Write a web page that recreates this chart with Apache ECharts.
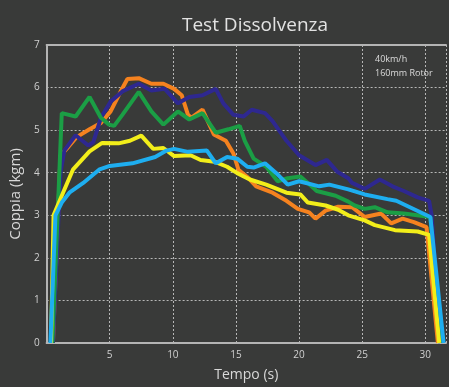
<!DOCTYPE html>
<html>
<head>
<meta charset="utf-8">
<script src="https://cdn.jsdelivr.net/npm/echarts@6/dist/echarts.min.js"></script>
<style>
  html, body { margin: 0; padding: 0; background: #393a39; }
  #main { width: 449px; height: 387px; }
</style>
</head>
<body>
<div id="main"></div>
<script>
// dati: [tempo (s), coppia (kgm)]
var blueData = [[0.3,0],[0.7,3.0],[1.2,3.3],[1.8,3.53],[2.9,3.76],[4.2,4.08],[5.0,4.16],[6.8,4.22],[8.6,4.37],[9.5,4.52],[10.1,4.56],[11.2,4.49],[12.7,4.52],[13.4,4.22],[14.3,4.37],[15.1,4.33],[15.9,4.14],[16.4,4.12],[17.3,4.22],[18.2,3.99],[19.1,3.72],[20.0,3.80],[21.6,3.68],[22.4,3.72],[23.9,3.61],[25.2,3.49],[27.0,3.38],[27.7,3.34],[30.4,2.96],[31.45,0]];
var yellowData = [[0.35,0],[0.55,3.0],[1.3,3.53],[2.1,4.08],[3.4,4.5],[4.4,4.7],[5.7,4.69],[6.6,4.75],[7.5,4.87],[8.45,4.56],[9.25,4.58],[10.1,4.39],[11.4,4.41],[12.2,4.30],[13.3,4.26],[14.3,4.14],[15.1,3.99],[16.1,3.84],[17.4,3.72],[19.0,3.53],[20.1,3.49],[20.7,3.30],[22.1,3.23],[23.1,3.13],[23.9,3.0],[25.2,2.88],[26.0,2.77],[27.6,2.65],[29.4,2.62],[30.3,2.54],[31.1,0]];
var orangeData = [[0.5,0],[1.1,4.4],[1.7,4.6],[2.35,4.83],[3.4,5.02],[4.3,5.17],[5.07,5.44],[5.85,5.9],[6.4,6.2],[7.3,6.22],[8.3,6.09],[9.25,6.09],[10.1,5.97],[10.7,5.82],[11.2,5.36],[11.45,5.29],[12.35,5.48],[13.25,4.9],[14.2,4.75],[14.8,4.45],[15.2,4.07],[15.9,3.9],[16.6,3.68],[17.9,3.53],[19.0,3.34],[19.9,3.15],[20.8,3.07],[21.3,2.92],[22.1,3.11],[23.1,3.2],[24.2,3.19],[25.2,2.96],[26.5,3.04],[27.3,2.81],[28.2,2.92],[29.1,2.84],[30.1,2.72],[31.0,0]];
var greenData = [[0.45,0],[0.9,3.2],[1.2,5.4],[2.3,5.32],[3.4,5.78],[4.3,5.29],[4.95,5.13],[5.35,5.1],[6.0,5.36],[7.3,5.9],[8.3,5.44],[9.25,5.13],[10.4,5.44],[11.3,5.25],[12.35,5.4],[13.4,4.94],[14.4,5.02],[15.3,5.1],[15.7,4.75],[16.4,4.33],[17.4,4.14],[18.3,3.8],[19.1,3.87],[20.1,3.91],[20.7,3.76],[21.4,3.57],[22.9,3.46],[23.9,3.32],[24.4,3.23],[25.2,3.15],[26.0,3.19],[27.0,3.07],[28.3,3.04],[30.4,2.96],[31.2,0]];
var purpleData = [[0.5,0],[1.1,4.0],[1.4,4.52],[2.3,4.88],[3.3,4.64],[3.7,4.72],[4.3,5.29],[5.07,5.67],[6.0,5.91],[7.3,6.09],[8.3,5.93],[9.36,5.97],[10.4,5.63],[11.3,5.78],[12.35,5.82],[13.4,5.97],[14.0,5.63],[14.8,5.36],[15.6,5.32],[16.25,5.48],[17.3,5.4],[17.9,5.21],[19.0,4.75],[20.0,4.41],[21.3,4.18],[22.2,4.30],[23.0,4.03],[23.9,3.87],[24.2,3.76],[25.2,3.62],[26.4,3.84],[27.4,3.68],[28.3,3.57],[29.4,3.42],[30.3,3.34],[30.5,3.0],[31.2,0]];

var titleText = 'Test Dissolvenza';
var noteLines = ['40km/h', '160mm Rotor'];

var font = '"Open Sans", sans-serif';
var gridLine = { show: true, lineStyle: { color: 'rgba(225,225,225,0.75)', width: 1, type: [2, 2] } };

function line(data, color) {
  return {
    type: 'line',
    data: data,
    symbol: 'none',
    lineStyle: { color: color, width: 4 },
    z: 3
  };
}

var myChart = echarts.init(document.getElementById('main'));
var option = {
  backgroundColor: '#393a39',
  animation: false,
  textStyle: { fontFamily: font },
  title: {
    text: titleText,
    left: 250,
    textAlign: 'center',
    top: 11,
    textStyle: { color: '#e2e2e2', fontSize: 19, fontWeight: 'normal', fontFamily: font }
  },
  grid: { left: 43, right: 0, top: 45, bottom: 36 },
  xAxis: [{
    type: 'value',
    min: 0,
    max: 31.64,
    interval: 5,
    name: 'Tempo (s)',
    nameLocation: 'middle',
    nameGap: 25,
    nameTextStyle: { color: '#d8d8d8', fontSize: 14 },
    axisLine: { show: true, lineStyle: { color: '#b4b4b4', width: 2 } },
    axisTick: { show: false },
    axisLabel: {
      color: '#d0d0d0', fontSize: 10, margin: 7,
      formatter: function (v) { return (v > 0 && v % 5 === 0) ? v : ''; }
    },
    splitLine: gridLine
  }, {
    // bordo superiore
    type: 'value', position: 'top', min: 0, max: 31.64,
    axisLine: { show: true, lineStyle: { color: '#b4b4b4', width: 2 } },
    axisTick: { show: false }, axisLabel: { show: false }, splitLine: { show: false }
  }],
  yAxis: {
    type: 'value',
    min: 0,
    max: 7,
    interval: 1,
    name: 'Coppia (kgm)',
    nameLocation: 'middle',
    nameGap: 20,
    nameTextStyle: { color: '#d8d8d8', fontSize: 15 },
    axisLine: { show: true, lineStyle: { color: '#b4b4b4', width: 2 } },
    axisTick: { show: false },
    axisLabel: { color: '#d0d0d0', fontSize: 10, margin: 7 },
    splitLine: gridLine
  },
  graphic: [{
    type: 'text',
    left: 375,
    top: 52,
    style: { text: noteLines.join('\n'), fill: '#dcdcdc', font: '9px ' + font, lineHeight: 14 }
  }],
  series: [
    line(orangeData, '#f5821f'),
    line(purpleData, '#2e2890'),
    line(greenData, '#1b9e45'),
    line(yellowData, '#f2ee1a'),
    line(blueData, '#1eaef0')
  ]
};
myChart.setOption(option);
</script>
</body>
</html>
